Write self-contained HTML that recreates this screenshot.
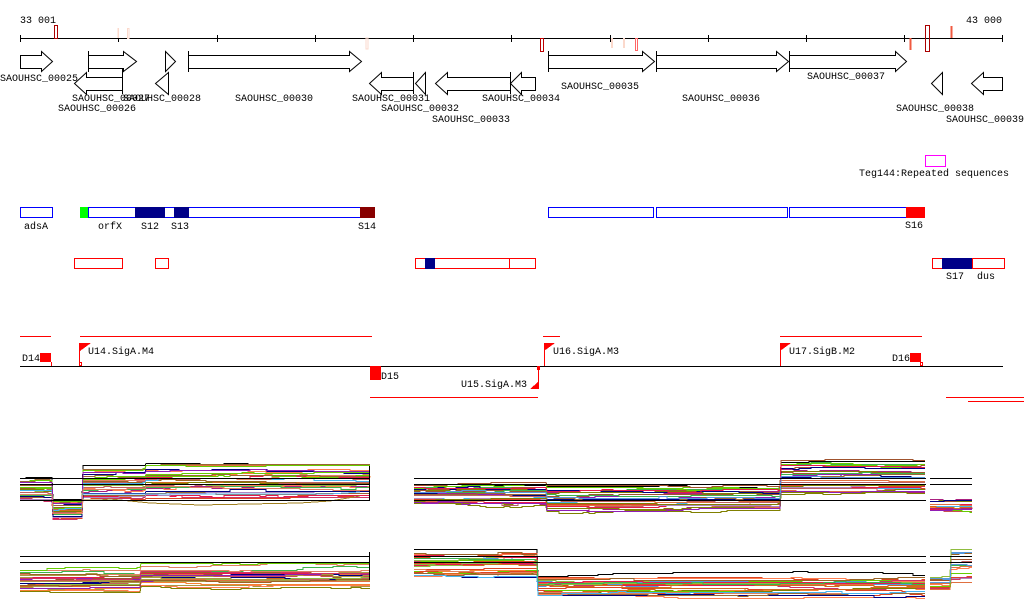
<!DOCTYPE html>
<html><head><meta charset="utf-8"><style>
html,body{margin:0;padding:0;background:#fff;width:1024px;height:611px;overflow:hidden}
svg text{font-family:"Liberation Mono","DejaVu Sans Mono",monospace;font-size:10px;fill:#000}
</style></head><body>
<svg id="s" width="1024" height="611" viewBox="0 0 1024 611" xmlns="http://www.w3.org/2000/svg" shape-rendering="crispEdges">
<text x="20" y="23">33 001</text>
<text x="1002" y="23" text-anchor="end">43 000</text>
<line x1="20" y1="38.5" x2="1002" y2="38.5" stroke="#000"/>
<g stroke="#000">
<line x1="20.5" y1="35" x2="20.5" y2="42"/><line x1="118.5" y1="35" x2="118.5" y2="42"/><line x1="217.5" y1="35" x2="217.5" y2="42"/><line x1="315.5" y1="35" x2="315.5" y2="42"/><line x1="413.5" y1="35" x2="413.5" y2="42"/><line x1="511.5" y1="35" x2="511.5" y2="42"/><line x1="610.5" y1="35" x2="610.5" y2="42"/><line x1="708.5" y1="35" x2="708.5" y2="42"/><line x1="806.5" y1="35" x2="806.5" y2="42"/><line x1="904.5" y1="35" x2="904.5" y2="42"/><line x1="1002.5" y1="35" x2="1002.5" y2="42"/>
</g>
<rect x="54.5" y="25.5" width="3" height="13" fill="none" stroke="#a00"/>
<rect x="117.5" y="28" width="1.5" height="10" fill="#fbd9cc"/>
<rect x="127.5" y="28.5" width="1.5" height="10" fill="none" stroke="#fbd9cc"/>
<rect x="366" y="38" width="2" height="11" fill="none" stroke="#fbd9cc"/>
<rect x="540.5" y="38.5" width="3" height="13" fill="none" stroke="#b00"/>
<rect x="611" y="38" width="2" height="10" fill="#fbd9cc"/>
<rect x="623" y="38" width="2" height="10" fill="#fbd9cc"/>
<rect x="635.5" y="38.5" width="2" height="12" fill="none" stroke="#f66"/>
<rect x="909.5" y="38" width="2" height="12" fill="#f05a40"/>
<rect x="925.5" y="25.5" width="4" height="26" fill="none" stroke="#a00"/>
<rect x="950.5" y="26" width="2" height="12" fill="#f05a40"/>
<g fill="none" stroke="#000" shape-rendering="auto">
<path d="M20.5 55.5H41.5V51.5L52.5 61.5L41.5 71.5V68.5H20.5Z"/>
<path d="M88.5 55.5H123.5V51.5L136.5 61.5L123.5 71.5V68.5H88.5Z"/><line x1="88.5" y1="51" x2="88.5" y2="72"/>
<path d="M122.5 77.5H86.5V72.5L74.5 83.5L86.5 94.5V90.5H122.5Z"/><line x1="122.5" y1="68" x2="122.5" y2="94"/>
<path d="M165.5 51.5L175.5 61.5L165.5 71.5Z"/>
<path d="M168.5 72.5L155.5 83.5L168.5 94.5Z"/>
<path d="M188.5 55.5H349.5V51.5L361.5 61.5L349.5 71.5V68.5H188.5Z"/><line x1="188.5" y1="51" x2="188.5" y2="72"/>
<path d="M413.5 77.5H381.5V72.5L369.5 83.5L381.5 94.5V90.5H413.5Z"/><line x1="413.5" y1="72" x2="413.5" y2="94"/>
<path d="M425.5 72.5L415.5 83.5L425.5 94.5Z"/>
<path d="M510.5 77.5H447.5V72.5L435.5 83.5L447.5 94.5V90.5H510.5Z"/><line x1="510.5" y1="72" x2="510.5" y2="94"/>
<path d="M535.5 77.5H521.5V72.5L510.5 83.5L521.5 94.5V90.5H535.5Z"/>
<path d="M548.5 55.5H642.5V51.5L654.5 61.5L642.5 71.5V68.5H548.5Z"/><line x1="548.5" y1="51" x2="548.5" y2="72"/>
<path d="M656.5 55.5H776.5V51.5L788.5 61.5L776.5 71.5V68.5H656.5Z"/><line x1="656.5" y1="51" x2="656.5" y2="72"/>
<path d="M789.5 55.5H895.5V51.5L906.5 61.5L895.5 71.5V68.5H789.5Z"/><line x1="789.5" y1="51" x2="789.5" y2="72"/>
<path d="M942.5 72.5L931.5 83.5L942.5 94.5Z"/>
<path d="M1002.5 77.5H983.5V72.5L971.5 83.5L983.5 94.5V90.5H1002.5Z"/>
</g>
<text x="0" y="81">SAOUHSC_00025</text>
<text x="72" y="101">SAOUHSC_00027</text>
<text x="123" y="101">SAOUHSC_00028</text>
<text x="58" y="111">SAOUHSC_00026</text>
<text x="235" y="101">SAOUHSC_00030</text>
<text x="352" y="101">SAOUHSC_00031</text>
<text x="381" y="111">SAOUHSC_00032</text>
<text x="432" y="122">SAOUHSC_00033</text>
<text x="482" y="101">SAOUHSC_00034</text>
<text x="561" y="89">SAOUHSC_00035</text>
<text x="682" y="101">SAOUHSC_00036</text>
<text x="807" y="79">SAOUHSC_00037</text>
<text x="896" y="111">SAOUHSC_00038</text>
<text x="946" y="122">SAOUHSC_00039</text>
<rect x="925.5" y="155.5" width="20" height="11" fill="none" stroke="#f0f"/>
<text x="859" y="176">Teg144:Repeated sequences</text>
<g fill="none" stroke="#00f">
<rect x="20.5" y="207.5" width="32" height="10"/>
<rect x="88.5" y="207.5" width="286" height="10"/>
<rect x="548.5" y="207.5" width="105" height="10"/>
<rect x="656.5" y="207.5" width="131" height="10"/>
<rect x="789.5" y="207.5" width="135" height="10"/>
</g>
<rect x="80" y="207" width="8" height="11" fill="#0f0"/>
<rect x="135" y="207" width="30" height="11" fill="#008"/>
<rect x="174" y="207" width="15" height="11" fill="#008"/>
<rect x="360" y="207" width="15" height="11" fill="#800"/>
<rect x="906" y="207" width="19" height="11" fill="#f00"/>
<text x="36" y="229" text-anchor="middle">adsA</text>
<text x="110" y="229" text-anchor="middle">orfX</text>
<text x="150" y="229" text-anchor="middle">S12</text>
<text x="180" y="229" text-anchor="middle">S13</text>
<text x="367" y="229" text-anchor="middle">S14</text>
<text x="914" y="228" text-anchor="middle">S16</text>
<g fill="none" stroke="#f00">
<rect x="74.5" y="258.5" width="48" height="10"/>
<rect x="155.5" y="258.5" width="13" height="10"/>
<rect x="415.5" y="258.5" width="120" height="10"/>
<line x1="509.5" y1="258" x2="509.5" y2="269"/>
<rect x="932.5" y="258.5" width="72" height="10"/>
<line x1="972.5" y1="258" x2="972.5" y2="269"/>
</g>
<rect x="425" y="258" width="10" height="11" fill="#008"/>
<rect x="942" y="258" width="30" height="11" fill="#008"/>
<text x="955" y="279" text-anchor="middle">S17</text>
<text x="986" y="279" text-anchor="middle">dus</text>
<g stroke="#f00" fill="none">
<line x1="20" y1="336.5" x2="51" y2="336.5"/>
<line x1="80" y1="336.5" x2="372" y2="336.5"/>
<line x1="543" y1="336.5" x2="560" y2="336.5"/>
<line x1="780" y1="336.5" x2="922" y2="336.5"/>
<line x1="370" y1="397.5" x2="538" y2="397.5"/>
<line x1="946" y1="397.5" x2="1024" y2="397.5"/>
<line x1="968" y1="401.5" x2="1024" y2="401.5"/>
<line x1="51.5" y1="362" x2="51.5" y2="366"/>
<rect x="79.5" y="362.5" width="2" height="3"/>
<line x1="79.5" y1="343" x2="79.5" y2="362"/>
<line x1="538.5" y1="366" x2="538.5" y2="389"/>
<line x1="544.5" y1="343" x2="544.5" y2="366"/>
<line x1="780.5" y1="343" x2="780.5" y2="366"/>
<rect x="920.5" y="362.5" width="2" height="3"/>
</g>
<line x1="20" y1="366.5" x2="1003" y2="366.5" stroke="#000"/>
<g fill="#f00">
<rect x="40" y="353" width="11" height="9"/>
<path d="M80 343H91L80 351Z"/>
<rect x="370" y="366" width="11" height="14"/>
<path d="M538 382V389H530Z"/>
<rect x="537" y="366" width="3" height="4"/>
<path d="M544 343H555L544 351Z"/>
<path d="M780 343H791L780 351Z"/>
<rect x="910" y="353" width="11" height="9"/>
</g>
<text x="22" y="361">D14</text>
<text x="88" y="354">U14.SigA.M4</text>
<text x="381" y="379">D15</text>
<text x="461" y="387">U15.SigA.M3</text>
<text x="553" y="354">U16.SigA.M3</text>
<text x="789" y="354">U17.SigB.M2</text>
<text x="892" y="361">D16</text>
<g id="plots" fill="none" stroke-width="1" shape-rendering="crispEdges"></g>
<g stroke="#000" fill="none">
<line x1="20" y1="478.5" x2="370" y2="478.5"/><line x1="20" y1="484.5" x2="370" y2="484.5"/><line x1="20" y1="500.5" x2="370" y2="500.5"/>
<line x1="369.5" y1="466" x2="369.5" y2="500"/>
<line x1="414" y1="478.5" x2="926" y2="478.5"/><line x1="414" y1="484.5" x2="926" y2="484.5"/><line x1="414" y1="500.5" x2="926" y2="500.5"/>
<line x1="930" y1="478.5" x2="972" y2="478.5"/><line x1="930" y1="484.5" x2="972" y2="484.5"/>
<line x1="20" y1="556.5" x2="370" y2="556.5"/><line x1="20" y1="562.5" x2="370" y2="562.5"/>
<line x1="369.5" y1="552" x2="369.5" y2="580"/>
<line x1="414" y1="556.5" x2="926" y2="556.5"/><line x1="414" y1="562.5" x2="926" y2="562.5"/>
<line x1="930" y1="556.5" x2="972" y2="556.5"/><line x1="930" y1="562.5" x2="972" y2="562.5"/>
</g>
</svg>
<script>
(function(){
var seed=7;function r(){seed=(seed*16807)%2147483647;return seed/2147483647;}
var cols=["#e6194b","#3cb44b","#911eb4","#f58231","#46b4f0","#c85050","#a0522d","#9a6324","#808000","#aa2080","#d2691e","#e07040","#000080","#8fbc3f","#b088c0","#dd4422","#66cc00","#cc3366","#ff7f50","#996633","#5599dd","#c06060","#aa9944","#e08060"];
var g=document.getElementById("plots");var ns="http://www.w3.org/2000/svg";
function panel(segs,n,top){
 for(var i=0;i<n;i++){
  var off=(i==0&&top)?0:r(),pts=[],noise=0,step=6+Math.floor(r()*10);
  for(var s=0;s<segs.length;s++){
   var sg=segs[s];
   for(var x=sg[0];x<=sg[1];x+=step){
    if(r()<0.3){noise+=(r()-0.5)*3;} if(noise>4)noise=4; if(noise<-4)noise=-4;
    var y=Math.round(sg[2]+off*sg[3]+noise)+0.5;
    pts.push(x+","+y);pts.push(Math.min(x+step,sg[1])+","+y);
   }
  }
  var p=document.createElementNS(ns,"polyline");
  p.setAttribute("points",pts.join(" "));
  p.setAttribute("stroke",(i==0&&top)?"#000":cols[Math.floor(r()*cols.length)]);
  g.appendChild(p);
 }
}
panel([[20,52,478,22],[53,82,500,18],[83,145,466,32],[146,370,464,32]],30,1);
panel([[414,546,484,20],[547,780,486,24],[781,925,460,34]],30,1);
panel([[930,972,498,14]],16,0);
panel([[20,140,570,22],[141,370,566,20]],30,0);
panel([[414,537,549,28],[538,925,575,20]],30,1);
panel([[930,950,577,12],[951,972,550,32]],16,0);
var o=document.createElementNS(ns,"polyline");o.setAttribute("points","82,500 100,500 110,499 150,503 200,505 300,503 330,501 360,496");o.setAttribute("stroke","#a08020");g.appendChild(o);
var o2=document.createElementNS(ns,"polyline");o2.setAttribute("points","82,494 200,494 330,494 360,492");o2.setAttribute("stroke","#5ab4f0");g.appendChild(o2);
})();
</script>
</body></html>
